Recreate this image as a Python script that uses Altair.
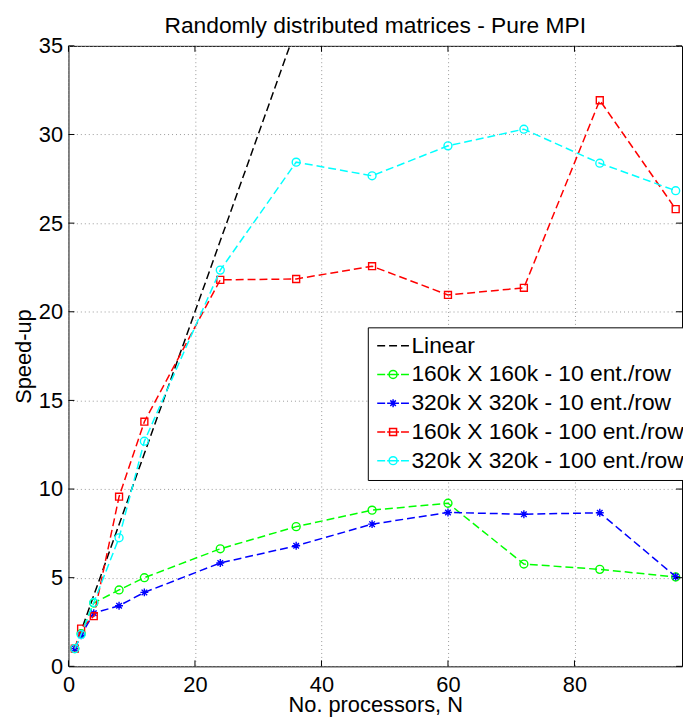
import altair as alt
import pandas as pd

N = [1, 2, 4, 8, 12, 24, 36, 48, 60, 72, 84, 96]
linear = [1, 2, 4, 8, 12, 24, 36, 48, 60, 72, 84, 96]
s160_10 = [1.0, 1.85, 3.57, 4.31, 5.0, 6.63, 7.88, 8.81, 9.2, 5.77, 5.47, 5.04]
s320_10 = [1.0, 1.75, 3.0, 3.42, 4.17, 5.83, 6.8, 8.02, 8.68, 8.58, 8.66, 5.06]
s160_100 = [1.0, 2.13, 2.83, 9.57, 13.8, 21.8, 21.85, 22.57, 20.95, 21.35, 31.93, 25.79]
s320_100 = [1.0, 1.8, 3.6, 7.25, 12.7, 22.35, 28.44, 27.67, 29.36, 30.3, 28.38, 26.83]

names = ["Linear",
         "160k X 160k - 10 ent./row",
         "320k X 320k - 10 ent./row",
         "160k X 160k - 100 ent./row",
         "320k X 320k - 100 ent./row"]
colors = ["#000000", "#00ff00", "#0000ff", "#ff0000", "#00ffff"]
series = [linear, s160_10, s320_10, s160_100, s320_100]

x_ticks = [0, 20, 40, 60, 80]
y_ticks = [0, 5, 10, 15, 20, 25, 30, 35]

rows = []
for name, vals in zip(names, series):
    for n, v in zip(N, vals):
        rows.append({"N": n, "S": v, "series": name})
df = pd.DataFrame(rows)

W, H = 619, 626
FONT = "Liberation Sans"

xs = alt.Scale(domain=[0, 97], nice=False, zero=False)
ys = alt.Scale(domain=[0, 35], nice=False)
cs = alt.Scale(domain=names, range=colors)


def lp(mk):
    # legend symbol: dashed line sample with marker in the middle (unit = 8px)
    o = -1.125
    d = (f"M{o},0H{o + 1}M{o + 1.25},0H{o + 2.75}M{o + 3},0H{o + 4}")
    if mk == "none":
        return f"M{o},0H{o + 1}M{o + 1.5},0H{o + 2.5}M{o + 3},0H{o + 4}"
    cx = o + 2
    if mk == "circle":
        r = 0.5
        return d + f"M{cx + r},0A{r},{r} 0 1,1 {cx - r},0A{r},{r} 0 1,1 {cx + r},0"
    if mk == "square":
        h = 0.44
        return d + f"M{cx - h},{-h}H{cx + h}V{h}H{cx - h}Z"
    a, b = 0.5, 0.35
    return d + (f"M{cx - a},0H{cx + a}M{cx},{-a}V{a}"
                f"M{cx - b},{-b}L{cx + b},{b}M{cx - b},{b}L{cx + b},{-b}")


legend_shapes = [lp("none"), lp("circle"), lp("star"), lp("square"), lp("circle")]
shs = alt.Scale(domain=names, range=legend_shapes)

STAR = "M-1,0H1M0,-1V1M-0.7,-0.7L0.7,0.7M-0.7,0.7L0.7,-0.7"
markers = [None, ("circle", 64), (STAR, 64), ("square", 49), ("circle", 64)]

x_enc = alt.X("N:Q", scale=xs, axis=alt.Axis(
    values=x_ticks, title="No. processors, N", grid=True, ticks=False,
    domain=False, labelPadding=8, titlePadding=0, labelFlush=False))
y_enc = alt.Y("S:Q", scale=ys, axis=alt.Axis(
    values=y_ticks, title="Speed-up", grid=True, ticks=False,
    domain=False, labelPadding=6, titlePadding=3, labelFlush=False))

layers = []
for name, mk in zip(names, markers):
    sub = alt.Chart(df).transform_filter(alt.datum.series == name)
    layers.append(sub.mark_line(strokeDash=[8, 4], strokeWidth=1.5, clip=True).encode(
        x=x_enc, y=y_enc,
        color=alt.Color("series:N", scale=cs, legend=None)))
    if mk is not None:
        shape, size = mk
        layers.append(sub.mark_point(shape=shape, size=size, filled=False,
                                     strokeWidth=1.4, opacity=1, clip=True).encode(
            x="N:Q", y="S:Q",
            color=alt.Color("series:N", scale=cs, legend=None)))

leg = dict(title=None, orient="none", legendX=302, legendY=284,
           labelFont=FONT, labelFontSize=23, labelLimit=500, labelColor="black",
           symbolSize=256, symbolStrokeWidth=1.5, symbolFillColor="transparent",
           strokeColor="black", fillColor="white", padding=7, rowPadding=5,
           labelOffset=14)

legend_layer = alt.Chart(df).transform_filter(alt.datum.N < 0).mark_point(
    filled=False, opacity=1, clip=True).encode(
    x="N:Q", y="S:Q",
    color=alt.Color("series:N", scale=cs, legend=alt.Legend(**leg)),
    shape=alt.Shape("series:N", scale=shs, legend=alt.Legend(**leg)),
)

xt_df = pd.DataFrame({"t": x_ticks})
yt_df = pd.DataFrame({"t": y_ticks})
tick_layers = [
    alt.Chart(xt_df).mark_rule(color="black").encode(
        x=alt.X("t:Q", scale=xs), y=alt.value(H), y2=alt.value(H - 6)),
    alt.Chart(xt_df).mark_rule(color="black").encode(
        x=alt.X("t:Q", scale=xs), y=alt.value(0), y2=alt.value(6)),
    alt.Chart(yt_df).mark_rule(color="black").encode(
        y=alt.Y("t:Q", scale=ys), x=alt.value(0), x2=alt.value(6)),
    alt.Chart(yt_df).mark_rule(color="black").encode(
        y=alt.Y("t:Q", scale=ys), x=alt.value(W), x2=alt.value(W - 6)),
]

chart = alt.layer(*layers, *tick_layers, legend_layer).properties(
    width=W, height=H,
    title=alt.TitleParams("Randomly distributed matrices - Pure MPI",
                          font=FONT, fontSize=23, fontWeight="normal",
                          color="black", anchor="middle", offset=3, dy=24,
                          baseline="alphabetic"),
    autosize=alt.AutoSizeParams(type="none"),
    padding={"left": 61, "top": 35, "right": 1, "bottom": 56},
    background="white",
).resolve_scale(color="independent", shape="independent").configure_view(
    stroke="black", strokeWidth=1
).configure_axis(
    labelFont=FONT, labelFontSize=22, labelColor="black",
    titleFont=FONT, titleFontSize=22, titleFontWeight="normal", titleColor="black",
    gridColor="#999999", gridDash=[1, 3], gridWidth=1, gridOpacity=1,
)

chart.save("out.html", embed_options={"renderer": "svg", "actions": False})
